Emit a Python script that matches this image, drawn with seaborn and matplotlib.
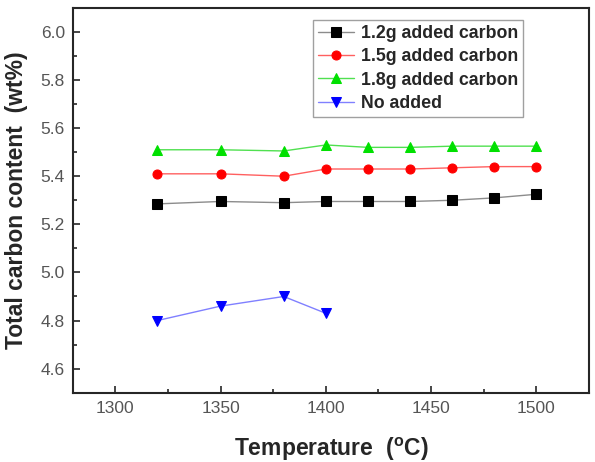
import pandas as pd
import seaborn as sns
import matplotlib.pyplot as plt
from matplotlib.ticker import MultipleLocator

temp = [1320, 1350, 1380, 1400, 1420, 1440, 1460, 1480, 1500]
c12 = [5.285, 5.295, 5.290, 5.295, 5.295, 5.295, 5.300, 5.310, 5.325]
c15 = [5.410, 5.410, 5.400, 5.430, 5.430, 5.430, 5.435, 5.440, 5.440]
c18 = [5.510, 5.510, 5.505, 5.530, 5.520, 5.520, 5.525, 5.525, 5.525]
temp_none = [1320, 1350, 1380, 1400]
c_none = [4.800, 4.860, 4.900, 4.830]

labels = ["1.2g added carbon", "1.5g added carbon", "1.8g added carbon", "No added"]

df = pd.concat([
    pd.DataFrame({"T": temp, "C": c12, "series": labels[0]}),
    pd.DataFrame({"T": temp, "C": c15, "series": labels[1]}),
    pd.DataFrame({"T": temp, "C": c18, "series": labels[2]}),
    pd.DataFrame({"T": temp_none, "C": c_none, "series": labels[3]}),
])

sns.set_style("ticks")
plt.rcParams["font.family"] = ["Liberation Sans", "DejaVu Sans"]

line_colors = ["#8c8c8c", "#ff6060", "#50e050", "#8080ff"]
marker_colors = ["black", "red", "#00e000", "blue"]
markers = ["s", "o", "^", "v"]

fig, ax = plt.subplots(figsize=(5.95, 4.62), dpi=100)
for i, lab in enumerate(labels):
    d = df[df["series"] == lab]
    sns.lineplot(data=d, x="T", y="C", ax=ax, color=line_colors[i], lw=1,
                 marker=markers[i], markersize=6.5, markerfacecolor=marker_colors[i],
                 markeredgecolor=marker_colors[i], label=lab)

ax.set_xlim(1280, 1525)
ax.set_ylim(4.5, 6.1)
ax.xaxis.set_major_locator(MultipleLocator(50))
ax.xaxis.set_minor_locator(MultipleLocator(25))
ax.yaxis.set_major_locator(MultipleLocator(0.2))
ax.yaxis.set_minor_locator(MultipleLocator(0.1))
ax.yaxis.set_major_formatter(plt.FormatStrFormatter("%.1f"))
ax.tick_params(which="both", direction="in", top=False, right=False, labelsize=12.5,
               labelcolor="#555555", width=1.2)
ax.tick_params(which="major", length=5, pad=6)
ax.tick_params(which="minor", length=3)
for s in ax.spines.values():
    s.set_linewidth(1.5)
    s.set_visible(True)

ax.set_xlabel("Temperature  ($^{\\mathregular{o}}$C)", fontsize=16.5, fontweight="bold", labelpad=14)
ax.set_ylabel("Total carbon content  (wt%)", fontsize=16.5, fontweight="bold", labelpad=9)

leg = ax.legend(loc="upper right", fontsize=12.8, frameon=True, fancybox=False,
                edgecolor="#888888", handlelength=2.0, borderpad=0.3, labelspacing=0.35,
                handletextpad=0.4, bbox_to_anchor=(0.89, 0.992))
for t in leg.get_texts():
    t.set_fontweight("bold")
leg.get_frame().set_linewidth(1)

fig.subplots_adjust(left=0.123, right=0.99, top=0.983, bottom=0.15)
fig.savefig("out.png", dpi=100)
